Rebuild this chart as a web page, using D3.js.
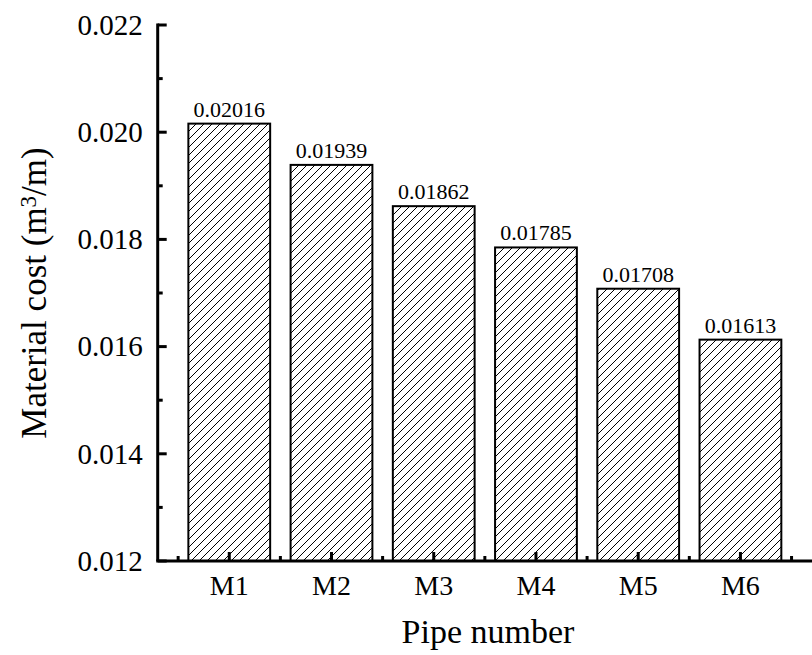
<!DOCTYPE html>
<html>
<head>
<meta charset="utf-8">
<script src="https://cdn.jsdelivr.net/npm/d3@7"></script>
<style>
body { margin: 0; background: #fff; }
text { font-family: "Liberation Serif", "Times New Roman", Times, serif; fill: #000; }
</style>
</head>
<body>
<script>
var pipes = ['M1', 'M2', 'M3', 'M4', 'M5', 'M6'];
var costs = [0.02016, 0.01939, 0.01862, 0.01785, 0.01708, 0.01613];
var costLabels = ['0.02016', '0.01939', '0.01862', '0.01785', '0.01708', '0.01613'];
var yTicks = [0.012, 0.014, 0.016, 0.018, 0.020, 0.022];

var width = 812, height = 655;
var svg = d3.select('body').append('svg').attr('width', width).attr('height', height);

// hatch fill
var defs = svg.append('defs');
defs.append('pattern')
	.attr('id', 'hatch')
	.attr('patternUnits', 'userSpaceOnUse')
	.attr('width', 8).attr('height', 8)
	.append('path')
	.attr('d', 'M-1,1 l2,-2 M0,8 l8,-8 M7,9 l2,-2')
	.attr('stroke', '#000').attr('stroke-width', 1.1)
	.attr('shape-rendering', 'crispEdges');

var x = d3.scaleLinear().domain([0.3, 6.7]).range([157.7, 812]);
var y = d3.scaleLinear().domain([0.012, 0.022]).range([561, 25]);
var barW = 0.8;

// bars
svg.selectAll('rect.bar').data(costs).enter().append('rect')
	.attr('class', 'bar')
	.attr('x', function(d, i) { return x(i + 1 - barW / 2); })
	.attr('y', function(d) { return y(d); })
	.attr('width', x(1 + barW / 2) - x(1 - barW / 2))
	.attr('height', function(d) { return y(0.012) - y(d); })
	.attr('fill', 'url(#hatch)')
	.attr('stroke', '#000').attr('stroke-width', 2);

// value labels
svg.selectAll('text.val').data(costs).enter().append('text')
	.attr('class', 'val')
	.attr('x', function(d, i) { return x(i + 1); })
	.attr('y', function(d) { return y(d) - 7; })
	.attr('text-anchor', 'middle')
	.attr('font-size', '22px')
	.text(function(d, i) { return costLabels[i]; });

// y axis
var yAxis = svg.append('g');
yAxis.append('line')
	.attr('x1', x(0.3)).attr('x2', x(0.3))
	.attr('y1', y(0.022) - 1.5).attr('y2', y(0.012))
	.attr('stroke', '#000').attr('stroke-width', 3);
yAxis.selectAll('line.maj').data(yTicks).enter().append('line')
	.attr('x1', x(0.3)).attr('x2', x(0.3) + 9)
	.attr('y1', function(d) { return y(d); }).attr('y2', function(d) { return y(d); })
	.attr('stroke', '#000').attr('stroke-width', 3);
yAxis.selectAll('line.min').data(d3.range(0.013, 0.0221, 0.002)).enter().append('line')
	.attr('x1', x(0.3)).attr('x2', x(0.3) + 5)
	.attr('y1', function(d) { return y(d); }).attr('y2', function(d) { return y(d); })
	.attr('stroke', '#000').attr('stroke-width', 3);
yAxis.selectAll('text').data(yTicks).enter().append('text')
	.attr('x', x(0.3) - 15)
	.attr('y', function(d) { return y(d); })
	.attr('dy', '0.34em')
	.attr('text-anchor', 'end')
	.attr('font-size', '29px')
	.text(d3.format('.3f'));

// x axis
var xAxis = svg.append('g');
xAxis.append('line')
	.attr('x1', x(0.3) - 1.5).attr('x2', x(6.7))
	.attr('y1', y(0.012)).attr('y2', y(0.012))
	.attr('stroke', '#000').attr('stroke-width', 3);
xAxis.selectAll('line.maj').data(pipes).enter().append('line')
	.attr('x1', function(d, i) { return x(i + 1); }).attr('x2', function(d, i) { return x(i + 1); })
	.attr('y1', y(0.012)).attr('y2', y(0.012) - 9)
	.attr('stroke', '#000').attr('stroke-width', 3);
xAxis.selectAll('line.min').data(d3.range(0.5, 6.6, 1)).enter().append('line')
	.attr('x1', function(d) { return x(d); }).attr('x2', function(d) { return x(d); })
	.attr('y1', y(0.012)).attr('y2', y(0.012) - 5)
	.attr('stroke', '#000').attr('stroke-width', 3);
xAxis.selectAll('text').data(pipes).enter().append('text')
	.attr('x', function(d, i) { return x(i + 1); })
	.attr('y', 595)
	.attr('text-anchor', 'middle')
	.attr('font-size', '28px')
	.text(function(d) { return d; });

// axis titles
svg.append('text')
	.attr('x', 488).attr('y', 643)
	.attr('text-anchor', 'middle')
	.attr('font-size', '34px')
	.text('Pipe number');

var yTitle = svg.append('text')
	.attr('transform', 'translate(46,293) rotate(-90)')
	.attr('text-anchor', 'middle')
	.attr('font-size', '35px');
yTitle.append('tspan').text('Material cost (m');
yTitle.append('tspan').attr('dy', '-0.45em').attr('font-size', '23px').text('3');
yTitle.append('tspan').attr('dy', '0.3em').text('/m)');
</script>
</body>
</html>
